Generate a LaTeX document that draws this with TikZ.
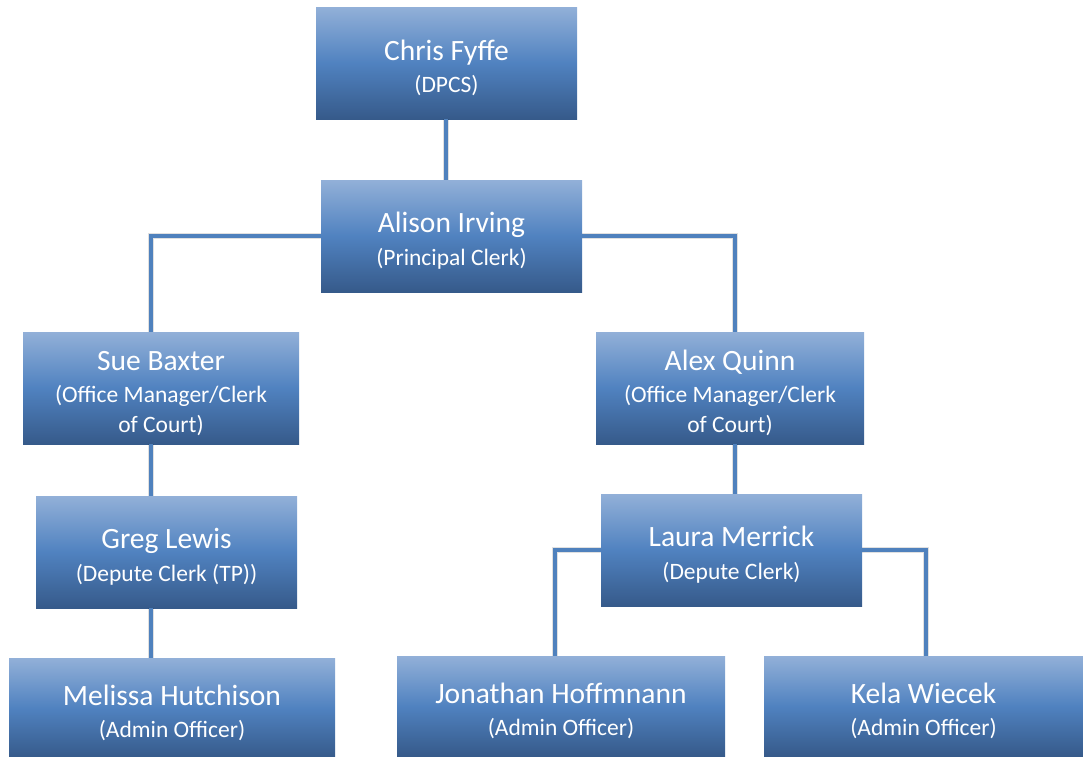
\documentclass[tikz,border=0pt]{standalone}
\usepackage{fontspec}
\setmainfont{Carlito}
\definecolor{boxtop}{RGB}{146,176,216}
\definecolor{boxmid}{RGB}{80,130,192}
\definecolor{boxbot}{RGB}{54,90,138}
\definecolor{connc}{RGB}{79,129,189}
\newcommand{\nmfont}{\fontsize{29.5}{34}\selectfont\rule{0pt}{30pt}}
\newcommand{\rlfont}{\fontsize{23.5}{29.5}\selectfont}
\begin{document}
\begin{tikzpicture}[x=1pt,y=-1pt,
  orgbox/.style={rectangle, inner sep=0pt, text=white, align=center,
    top color=boxtop, bottom color=boxbot, middle color=boxmid,
    font=\rlfont},
  conn/.style={draw=connc, line width=4.5pt},
  connshadow/.style={draw=black, opacity=0.12, line width=6.5pt, shift={(1.5,2)}}
]
\useasboundingbox (0,0) rectangle (1083,756);

\node[orgbox, minimum width=261, minimum height=112] (chris) at (446.5,63)
  {{\nmfont Chris Fyffe}\\[3pt](DPCS)};
\node[orgbox, minimum width=261, minimum height=112] (alison) at (451.5,236)
  {{\nmfont Alison Irving}\\[3pt](Principal Clerk)};
\node[orgbox, minimum width=276, minimum height=112] (sue) at (161,388)
  {{\nmfont Sue Baxter}\\[3pt](Office Manager/Clerk\\of Court)};
\node[orgbox, minimum width=268, minimum height=112] (alex) at (730,388)
  {{\nmfont Alex Quinn}\\[3pt](Office Manager/Clerk\\of Court)};
\node[orgbox, minimum width=261, minimum height=112] (greg) at (166.5,552)
  {{\nmfont Greg Lewis}\\[3pt](Depute Clerk (TP))};
\node[orgbox, minimum width=261, minimum height=112] (laura) at (731.5,550)
  {{\nmfont Laura Merrick}\\[3pt](Depute Clerk)};
\node[orgbox, minimum width=326, minimum height=100] (melissa) at (172,708)
  {{\nmfont Melissa Hutchison}\\[3pt](Admin Officer)};
\node[orgbox, minimum width=328, minimum height=100] (jonathan) at (561,706)
  {{\nmfont Jonathan Hoffmnann}\\[3pt](Admin Officer)};
\node[orgbox, minimum width=319, minimum height=100] (kela) at (923.5,706)
  {{\nmfont Kela Wiecek}\\[3pt](Admin Officer)};

\coordinate (lx) at (151,0);
\coordinate (rx) at (735,0);
\coordinate (jx) at (555,0);
\coordinate (kx) at (926,0);
\coordinate (cx) at (446,0);

\foreach \sty in {connshadow,conn}{
  \draw[\sty] (chris.south -| cx) -- (alison.north -| cx);
  \draw[\sty] (alison.west) -| (sue.north -| lx);
  \draw[\sty] (alison.east) -| (alex.north -| rx);
  \draw[\sty] (sue.south -| lx) -- (greg.north -| lx);
  \draw[\sty] (greg.south -| lx) -- (melissa.north -| lx);
  \draw[\sty] (alex.south -| rx) -- (laura.north -| rx);
  \draw[\sty] (laura.west) -| (jonathan.north -| jx);
  \draw[\sty] (laura.east) -| (kela.north -| kx);
}
\end{tikzpicture}
\end{document}
